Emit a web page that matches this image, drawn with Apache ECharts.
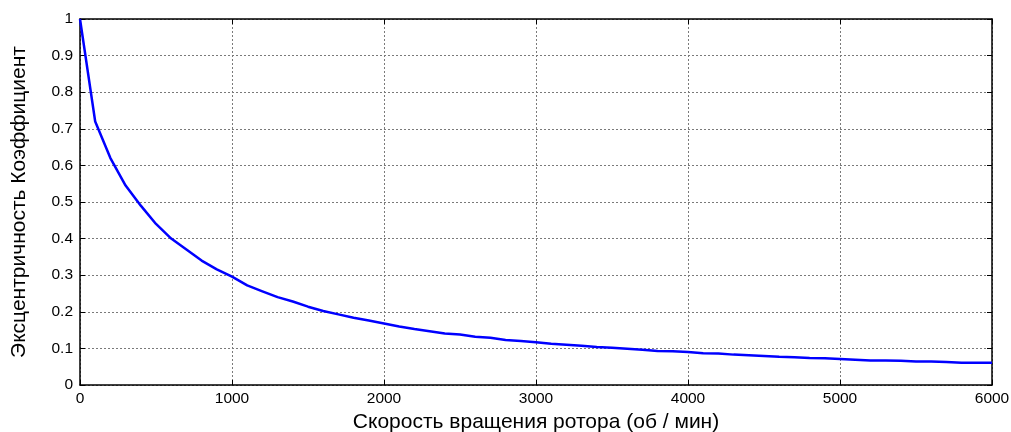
<!DOCTYPE html>
<html>
<head>
<meta charset="utf-8">
<script src="https://cdn.jsdelivr.net/npm/echarts@6/dist/echarts.min.js"></script>
<style>
html, body { margin: 0; padding: 0; background: #fff; }
#chart { width: 1011px; height: 432px; }
</style>
</head>
<body>
<div id="chart"></div>
<script>
// Rotor speed, rpm
const speed = [
  0, 100, 200, 300, 400, 500, 600, 700, 800, 900,
  1000, 1100, 1200, 1300, 1400, 1500, 1600, 1700, 1800, 1900,
  2000, 2100, 2200, 2300, 2400, 2500, 2600, 2700, 2800, 2900,
  3000, 3100, 3200, 3300, 3400, 3500, 3600, 3700, 3800, 3900,
  4000, 4100, 4200, 4300, 4400, 4500, 4600, 4700, 4800, 4900,
  5000, 5100, 5200, 5300, 5400, 5500, 5600, 5700, 5800, 5900, 6000
];
// Eccentricity coefficient
const eccentricity = [
  1.0, 0.72, 0.62, 0.545, 0.49, 0.44, 0.40, 0.37, 0.34, 0.316,
  0.296, 0.272, 0.256, 0.240, 0.228, 0.214, 0.202, 0.193, 0.184, 0.176,
  0.168, 0.160, 0.153, 0.147, 0.141, 0.138, 0.132, 0.129, 0.123, 0.120,
  0.117, 0.113, 0.110, 0.107, 0.104, 0.102, 0.099, 0.096, 0.093, 0.092,
  0.090, 0.087, 0.086, 0.083, 0.081, 0.079, 0.077, 0.076, 0.074, 0.073,
  0.071, 0.069, 0.067, 0.067, 0.066, 0.064, 0.064, 0.063, 0.061, 0.061, 0.061
];
const xTicks = [0, 1000, 2000, 3000, 4000, 5000, 6000];
const yTicks = [0, 0.1, 0.2, 0.3, 0.4, 0.5, 0.6, 0.7, 0.8, 0.9, 1];

const xTitle = 'Скорость вращения ротора (об / мин)';
const yTitle = 'Эксцентричность Коэффициент';

const font = 'Liberation Sans, Arial, sans-serif';
const gridLine = { show: true, lineStyle: { color: '#7a7a7a', width: 1, type: [2, 2] } };
const frameLine = { show: true, onZero: false, lineStyle: { color: '#000', width: 1.5 } };
const innerTick = { show: true, inside: true, length: 5, lineStyle: { color: '#000', width: 1 } };

const chart = echarts.init(document.getElementById('chart'), null, { renderer: 'canvas' });
chart.setOption({
  backgroundColor: '#fff',
  animation: false,
  grid: { left: 80, right: 19, top: 19, bottom: 47, containLabel: false, outerBoundsMode: 'none' },
  xAxis: [
    {
      type: 'value', position: 'bottom',
      min: xTicks[0], max: xTicks[xTicks.length - 1], interval: 1000,
      axisLine: frameLine, axisTick: innerTick, splitLine: gridLine,
      axisLabel: { color: '#000', fontFamily: font, fontSize: 15.5, margin: 6, formatter: v => String(v) },
      name: xTitle, nameLocation: 'middle', nameGap: 25,
      nameTextStyle: { color: '#000', fontFamily: font, fontSize: 21 }
    },
    {
      type: 'value', position: 'top',
      min: xTicks[0], max: xTicks[xTicks.length - 1], interval: 1000,
      axisLine: frameLine, axisTick: innerTick, splitLine: { show: false },
      axisLabel: { show: false }
    }
  ],
  yAxis: [
    {
      type: 'value', position: 'left',
      min: yTicks[0], max: yTicks[yTicks.length - 1], interval: 0.1,
      axisLine: frameLine, axisTick: innerTick, splitLine: gridLine,
      axisLabel: {
        color: '#000', fontFamily: font, fontSize: 15.5, margin: 7,
        formatter: v => String(Math.round(v * 10) / 10)
      },
      name: yTitle, nameLocation: 'middle', nameGap: 50, nameRotate: 90,
      nameTextStyle: { color: '#000', fontFamily: font, fontSize: 21 }
    },
    {
      type: 'value', position: 'right',
      min: yTicks[0], max: yTicks[yTicks.length - 1], interval: 0.1,
      axisLine: frameLine, axisTick: innerTick, splitLine: { show: false },
      axisLabel: { show: false }
    }
  ],
  series: [
    {
      type: 'line',
      xAxisIndex: 0, yAxisIndex: 0,
      data: speed.map((s, i) => [s, eccentricity[i]]),
      showSymbol: false,
      smooth: false,
      lineStyle: { color: '#0000ff', width: 2.5 },
      itemStyle: { color: '#0000ff' }
    }
  ]
});
</script>
</body>
</html>
